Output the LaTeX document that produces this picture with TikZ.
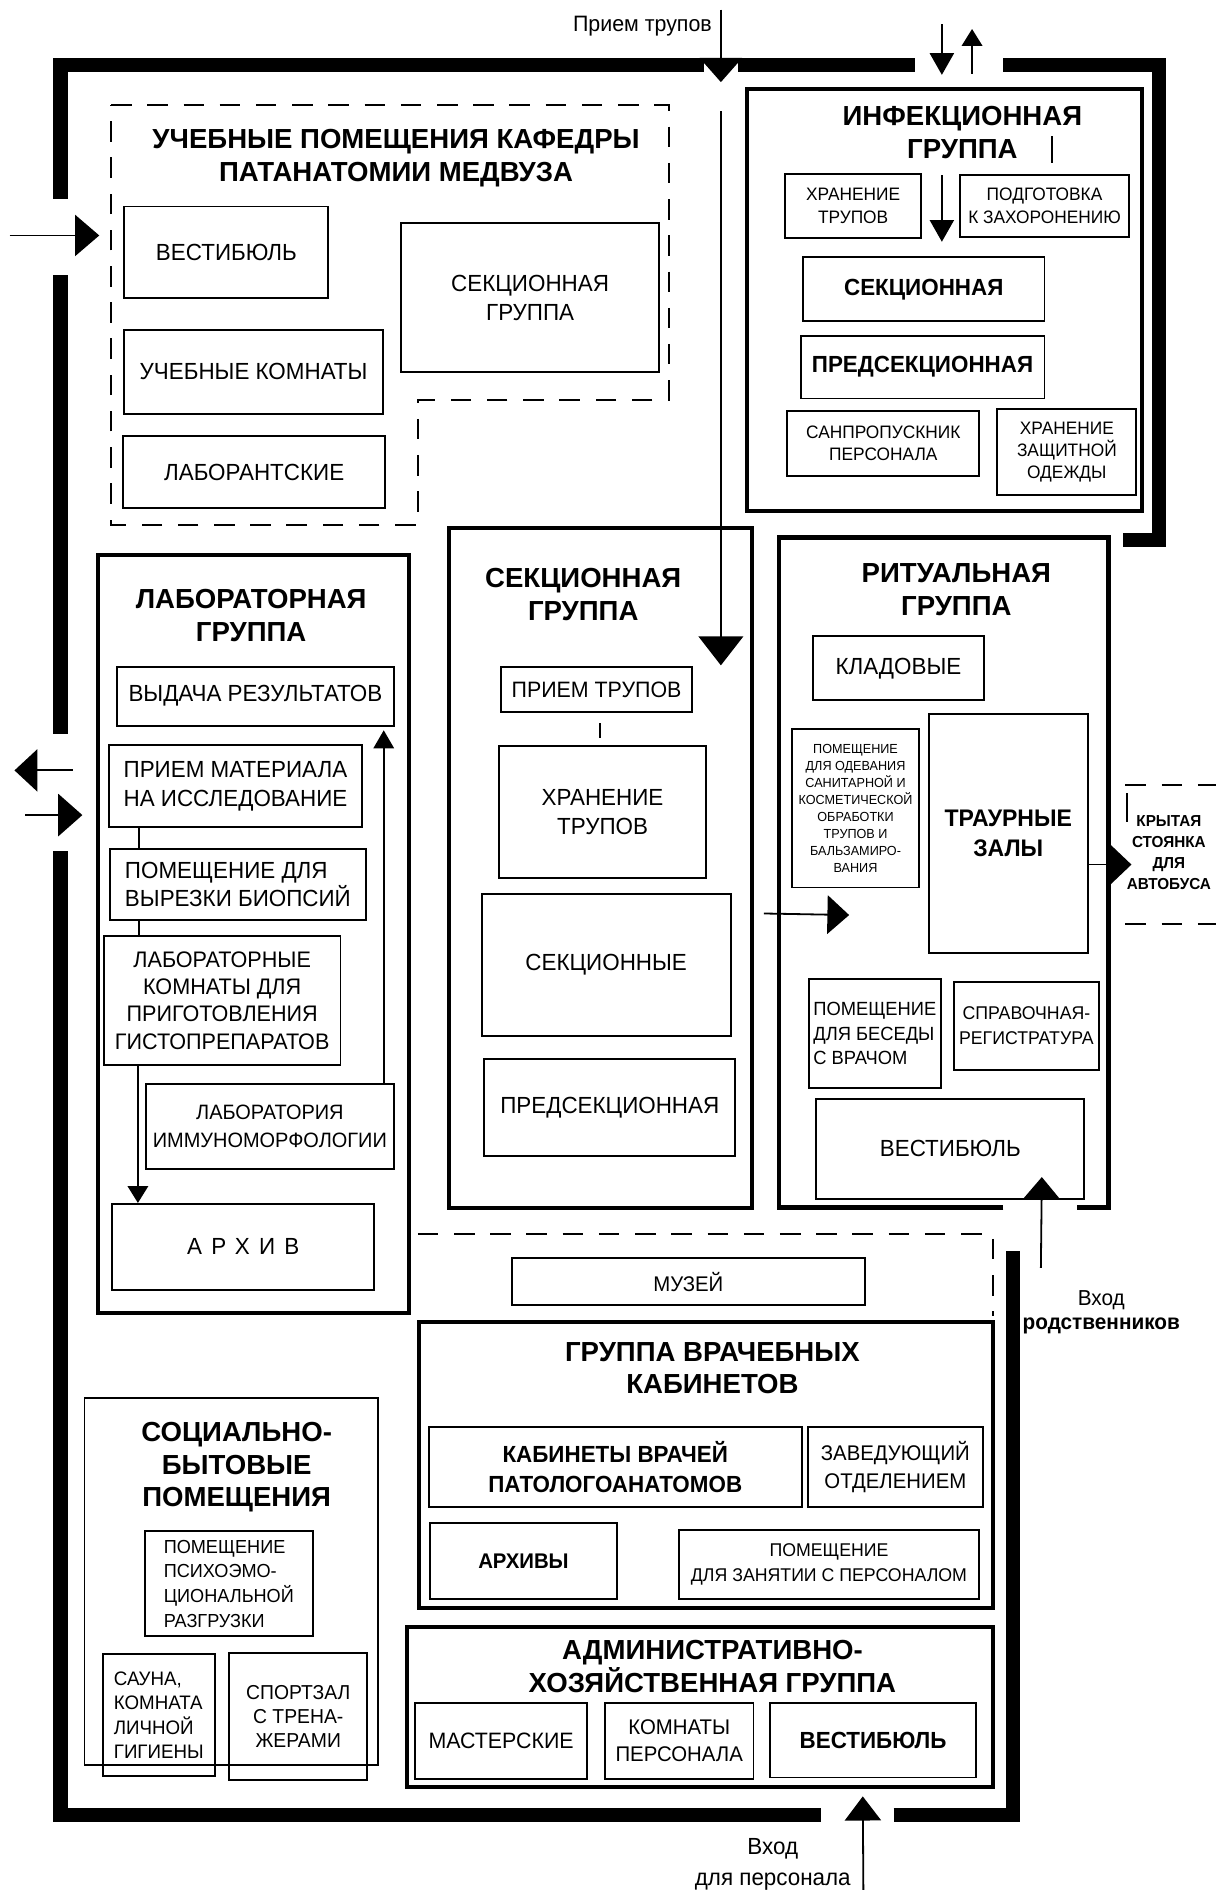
\documentclass[tikz,border=0pt]{standalone}
\usepackage{fontspec}
\setmainfont{Liberation Sans}[FakeStretch=0.96]
\newfontfamily\ttlfont{Liberation Sans}
\usetikzlibrary{arrows.meta,calc}
\newcommand\fsz[2]{\fontsize{#1}{#2}\selectfont}
\newcommand\roomnode[7][]{\node[room,#1,minimum width={(#5-#3)*0.02cm},minimum height={(#6-#4)*0.02cm}] (#2) at ({(#3+#5)/2},{(#4+#6)/2}) {#7};}
\tikzset{
  room/.style={draw, line width=0.9pt, inner sep=1pt, align=center, font=\fsz{11}{13.5}},
  smallroom/.style={font=\fsz{8.5}{10.5}},
  boldroom/.style={font=\bfseries\fsz{11}{13.5}},
  grp/.style={line width=1.9pt, inner sep=0pt},
  grpline/.style={line width=2.2pt, line join=miter},
  wall/.style={line width=6.8pt, line join=miter},
  conn/.style={line width=0.85pt},
  ttl/.style={font=\ttlfont\bfseries\fsz{13}{15.5}, align=center, inner sep=0pt},
  dsh/.style={line width=0.9pt, dash pattern=on 0.34cm off 0.26cm},
}
\begin{document}
\begin{tikzpicture}[x=0.02cm,y=-0.02cm]
\useasboundingbox (0,0) rectangle (1008,1571);

% ---------- outer walls ----------
\draw[wall] (583,54) -- (50,54) -- (50,165);
\draw[wall] (50,228) -- (50,608);
\draw[wall] (50,705) -- (50,1503) -- (680,1503);
\draw[wall] (740,1503) -- (839,1503) -- (839,1036);
\draw[wall] (611,54) -- (758,54);
\draw[wall] (831,54) -- (960,54) -- (960,447) -- (930,447);

% ---------- training area ----------
\draw[dsh] (92,87) -- (554,87) -- (554,331) -- (346,331) -- (346,435) -- (92,435) -- cycle;
\node[ttl] (t-ucheb) at (328,131) {УЧЕБНЫЕ ПОМЕЩЕНИЯ КАФЕДРЫ\\ПАТАНАТОМИИ МЕДВУЗА};
\roomnode{vest1}{103}{171}{272}{247}{ВЕСТИБЮЛЬ}
\roomnode{sekgr1}{332}{185}{546}{308}{СЕКЦИОННАЯ\\ГРУППА}
\roomnode{uchkom}{103}{273}{317}{343}{УЧЕБНЫЕ КОМНАТЫ}
\roomnode{laborant}{102}{361}{319}{421}{ЛАБОРАНТСКИЕ}

% ---------- infection group ----------
\roomnode[grp]{infgr}{619}{74}{946}{423}{}
\node[ttl] (t-inf) at (797,110) {ИНФЕКЦИОННАЯ\\ГРУППА};
\roomnode[smallroom]{hrtr1}{650}{144}{763}{197}{ХРАНЕНИЕ\\ТРУПОВ}
\roomnode[smallroom]{podg}{795}{145}{935}{196}{ПОДГОТОВКА\\К ЗАХОРОНЕНИЮ}
\roomnode[boldroom]{sekinf}{665}{213}{865}{266}{СЕКЦИОННАЯ}
\roomnode[boldroom]{predinf}{663}{278}{865}{330}{ПРЕДСЕКЦИОННАЯ}
\roomnode[smallroom]{sanpr}{652}{340}{811}{394}{САНПРОПУСКНИК\\ПЕРСОНАЛА}
\roomnode[smallroom]{hrod}{826}{339}{941}{410}{ХРАНЕНИЕ\\ЗАЩИТНОЙ\\ОДЕЖДЫ}
\draw[conn] (871,113) -- (871,135);

% ---------- laboratory group ----------
\roomnode[grp]{labgr}{81}{460}{339}{1087}{}
\node[ttl] (t-lab) at (208,510) {ЛАБОРАТОРНАЯ\\ГРУППА};
\roomnode{vyd}{97}{552}{326}{601}{ВЫДАЧА РЕЗУЛЬТАТОВ}
\roomnode{priemmat}{90}{617}{300}{685}{ПРИЕМ МАТЕРИАЛА\\НА ИССЛЕДОВАНИЕ}
\roomnode[align=left]{vyrez}{91}{703}{303}{762}{ПОМЕЩЕНИЕ ДЛЯ\\ВЫРЕЗКИ БИОПСИЙ}
\roomnode[font=\fsz{10.6}{12.9}]{labkom}{86}{775}{282}{882}{ЛАБОРАТОРНЫЕ\\КОМНАТЫ ДЛЯ\\ПРИГОТОВЛЕНИЯ\\ГИСТОПРЕПАРАТОВ}
\roomnode[font=\fsz{9.8}{13}]{immuno}{121}{898}{326}{968}{ЛАБОРАТОРИЯ\\ИММУНОМОРФОЛОГИИ}
\roomnode[font=\addfontfeature{LetterSpace=40}\fsz{11}{13}]{arhiv}{93}{997}{310}{1068}{АРХИВ}

% ---------- section group ----------
\roomnode[grp]{sekgr}{372}{437}{623}{1000}{}
\node[ttl] (t-sek) at (483,492) {СЕКЦИОННАЯ\\ГРУППА};
\roomnode[font=\fsz{10.5}{13}]{priemtr}{415}{552}{573}{590}{ПРИЕМ ТРУПОВ}
\roomnode{hrtr}{413}{618}{585}{727}{ХРАНЕНИЕ\\ТРУПОВ}
\roomnode{sekcii}{399}{740}{605}{858}{СЕКЦИОННЫЕ}
\roomnode{predsek}{401}{877}{609}{957}{ПРЕДСЕКЦИОННАЯ}

% ---------- ritual group ----------
\draw[grpline] (831,1000) -- (645,1000) -- (645,445) -- (918,445) -- (918,1000) -- (892,1000);
\node[ttl] (t-rit) at (792,488) {РИТУАЛЬНАЯ\\ГРУППА};
\roomnode{klad}{673}{527}{815}{580}{КЛАДОВЫЕ}
\roomnode[font=\fsz{6.2}{8}]{odev}{656}{604}{761}{735}{ПОМЕЩЕНИЕ\\ДЛЯ ОДЕВАНИЯ\\САНИТАРНОЙ И\\КОСМЕТИЧЕСКОЙ\\ОБРАБОТКИ\\ТРУПОВ И\\БАЛЬЗАМИРО-\\ВАНИЯ}
\roomnode[font=\bfseries\fsz{11.3}{14}]{zaly}{769}{591}{901}{789}{ТРАУРНЫЕ\\ЗАЛЫ}
\roomnode[align=left,font=\fsz{9}{11.5}]{beseda}{670}{811}{779}{901}{ПОМЕЩЕНИЕ\\ДЛЯ БЕСЕДЫ\\С ВРАЧОМ}
\roomnode[font=\fsz{8.7}{12}]{sprav}{790}{813}{910}{886}{СПРАВОЧНАЯ-\\РЕГИСТРАТУРА}
\roomnode{vest2}{676}{910}{898}{993}{ВЕСТИБЮЛЬ}

% covered parking
\draw[dsh] (932,650) -- (1007,650);
\draw[dsh] (932,765) -- (1007,765);
\draw[conn] (933,657) -- (933,681);
\node[font=\bfseries\fsz{7.5}{10}, align=center] (stoy) at (968,706) {КРЫТАЯ\\СТОЯНКА\\ДЛЯ\\АВТОБУСА};

% ---------- museum / doctors ----------
\draw[dsh] (346,1022) -- (822,1022) -- (822,1090);
\roomnode[font=\fsz{10}{12}]{muzey}{424}{1042}{716}{1081}{МУЗЕЙ}
\roomnode[grp]{docgr}{347}{1095}{822}{1332}{}
\node[ttl] (t-doc) at (590,1133) {ГРУППА ВРАЧЕБНЫХ\\КАБИНЕТОВ};
\roomnode[font=\bfseries\fsz{11}{14}]{kabvr}{355}{1182}{664}{1248}{КАБИНЕТЫ ВРАЧЕЙ\\ПАТОЛОГОАНАТОМОВ}
\roomnode[font=\fsz{10}{13}]{zaved}{669}{1182}{814}{1248}{ЗАВЕДУЮЩИЙ\\ОТДЕЛЕНИЕМ}
\roomnode[font=\bfseries\fsz{10}{12}]{arhivy}{356}{1261}{511}{1324}{АРХИВЫ}
\roomnode[font=\fsz{8.7}{12}]{zanyat}{562}{1267}{811}{1324}{ПОМЕЩЕНИЕ\\ДЛЯ ЗАНЯТИИ С ПЕРСОНАЛОМ}

% ---------- administrative ----------
\roomnode[grp]{admgr}{337}{1347}{822}{1480}{}
\node[ttl] (t-adm) at (590,1380) {АДМИНИСТРАТИВНО-\\ХОЗЯЙСТВЕННАЯ ГРУППА};
\roomnode[font=\fsz{10.5}{13}]{master}{344}{1410}{486}{1473}{МАСТЕРСКИЕ}
\roomnode[font=\fsz{10}{12.5}]{komper}{501}{1410}{624}{1473}{КОМНАТЫ\\ПЕРСОНАЛА}
\roomnode[font=\bfseries\fsz{11}{13}]{vest3}{638}{1410}{808}{1472}{ВЕСТИБЮЛЬ}

% ---------- social ----------
\roomnode{socgr}{70}{1158}{313}{1462}{}
\node[ttl] (t-soc) at (196,1215) {СОЦИАЛЬНО-\\БЫТОВЫЕ\\ПОМЕЩЕНИЯ};
\roomnode[align=left,font=\fsz{8.9}{11.6}]{psih}{120}{1268}{259}{1355}{ПОМЕЩЕНИЕ\\ПСИХОЭМО-\\ЦИОНАЛЬНОЙ\\РАЗГРУЗКИ}
\roomnode[align=left,font=\fsz{9.2}{11.5}]{sauna}{85}{1370}{178}{1471}{САУНА,\\КОМНАТА\\ЛИЧНОЙ\\ГИГИЕНЫ}
\roomnode[font=\fsz{9.5}{11.5}]{sport}{190}{1369}{304}{1474}{СПОРТЗАЛ\\С ТРЕНА-\\ЖЕРАМИ}

% ---------- outside labels ----------
\node[font=\fsz{10.5}{13}] (lbl-priem) at (532,22) {Прием трупов};
\node[font=\fsz{10.2}{11.5}, align=center] (lbl-rod) at (912,1087) {Вход\\\textbf{родственников}};
\node[font=\fsz{11}{15}, align=center] (lbl-pers) at (640,1544) {Вход\\для персонала};

% ---------- connectors ----------
\coordinate (c-priem-top) at (597,8);
\coordinate (c-priem-gate) at (597,68);
\coordinate (c-priem-in) at (597,92);
\coordinate (c-sek-in) at (597,551);
\draw[conn,-{Triangle[width=0.7cm,length=0.4cm]}] (c-priem-top) -- (c-priem-gate);
\draw[conn,-{Triangle[width=0.74cm,length=0.48cm]}] (c-priem-in) -- (c-sek-in);

\coordinate (c-inf-a1) at (780,20);
\coordinate (c-inf-a2) at (780,62);
\draw[conn,-{Triangle[width=0.4cm,length=0.36cm]}] (c-inf-a1) -- (c-inf-a2);
\coordinate (c-inf-b1) at (805,61);
\coordinate (c-inf-b2) at (805,24);
\draw[conn,-{Triangle[width=0.34cm,length=0.28cm]}] (c-inf-b1) -- (c-inf-b2);
\coordinate (c-inf-c1) at (780,145);
\draw[conn,-{Triangle[width=0.4cm,length=0.36cm]}] (c-inf-c1) -- ($(sekinf.north)+(15,-12)$);

\coordinate (c-ent1) at (8,195);
\draw[conn,-{Triangle[width=0.68cm,length=0.4cm]}] (c-ent1) -- ($(vest1.west)+(-20,-14)$);

\coordinate (c-labout) at (12,638);
\coordinate (c-labin) at (21,675);
\draw[conn,-{Triangle[width=0.7cm,length=0.38cm]}] ($(priemmat.west)+(-29,-13)$) -- (c-labout);
\draw[conn,-{Triangle[width=0.7cm,length=0.4cm]}] (c-labin) -- ($(priemmat.west)+(-21,24)$);

\draw[conn] ($(priemmat.south west)+(26,0)$) -- ($(vyrez.north west)+(25,0)$);
\draw[conn] ($(vyrez.south west)+(25,0)$) -- ($(labkom.north west)+(30,0)$);
\draw[conn,-{Triangle[width=0.34cm,length=0.28cm]}] ($(labkom.south west)+(29,0)$) -- ($(arhiv.north west)+(22,0)$);
\draw[conn,-{Triangle[width=0.34cm,length=0.3cm]}] ($(immuno.north east)+(-9,0)$) -- ($(vyd.south east)+(-9,3)$);

\draw[conn] ($(priemtr.south)+(3,8)$) -- ($(hrtr.north)+(-2,-6)$);

\draw[conn,-{Triangle[width=0.64cm,length=0.36cm]}] ($(sekgr.east)+(8,38)$) -- ($(odev.south west)+(48,22)$);

\coordinate (c-stoy) at (937,716);
\draw[conn,-{Triangle[width=0.64cm,length=0.34cm]}] ($(zaly.east)+(0,26)$) -- (c-stoy);

\coordinate (c-rod) at (862,1050);
\draw[conn,-{Triangle[width=0.6cm,length=0.36cm]}] (c-rod) -- ($(vest2.south east)+(-36,-19)$);

\coordinate (c-pers) at (715,1565);
\draw[conn,-{Triangle[width=0.6cm,length=0.4cm]}] (c-pers) -- ($(admgr.south)+(135,6)$);
\end{tikzpicture}
\end{document}
